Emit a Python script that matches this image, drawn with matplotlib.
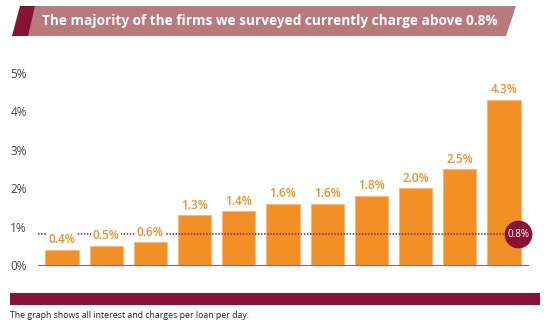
import matplotlib
matplotlib.use("Agg")
import matplotlib.pyplot as plt
from matplotlib.patches import Polygon, Rectangle

plt.rcParams['font.family'] = ['Open Sans', 'DejaVu Sans']

values = [0.4, 0.5, 0.6, 1.3, 1.4, 1.6, 1.6, 1.8, 2.0, 2.5, 4.3]
labels = ["%.1f%%" % v for v in values]
yticks = [0, 1, 2, 3, 4, 5]
threshold = 0.8
title = "The majority of the firms we surveyed currently charge above 0.8%"
note = "The graph shows all interest and charges per loan per day."

orange = "#f39025"
crimson = "#891336"
rose = "#b87a7a"

W, H = 550, 323
fig = plt.figure(figsize=(W / 100, H / 100), dpi=100)


def px(x, y):
    # pixel coords from top-left -> figure fraction
    return (x / W, 1 - y / H)


# axes placed in pixel coords
left, right, top, bottom = 38, 528, 60, 265
ax = fig.add_axes([left / W, 1 - bottom / H, (right - left) / W, (bottom - top) / H])

pitch = 44.2
x0 = (62 - left) / pitch
xs = list(range(len(values)))
ax.bar(xs, values, width=0.75, color=orange, edgecolor="#f8b878", linewidth=0.6, zorder=2)
for x, v, lab in zip(xs, values, labels):
    ax.text(x, v + 0.09, lab, ha="center", va="bottom", color=orange,
            fontsize=8.5, fontweight="semibold", zorder=6,
            bbox=dict(facecolor="white", edgecolor="none", pad=1.0))

ax.set_xlim(-x0, -x0 + (right - left) / pitch)
ax.set_ylim(0, (bottom - top) / 38.4)
ax.set_yticks(yticks)
ax.set_yticklabels(["%d%%" % t for t in yticks], fontsize=8.5, color="#444444")
ax.set_xticks([])
for s in ["top", "right", "left"]:
    ax.spines[s].set_visible(False)
ax.spines["bottom"].set_color("#b05a6a")
ax.spines["bottom"].set_linewidth(0.8)
ax.tick_params(axis="y", length=0, pad=8)

# threshold dotted line and marker
xr = -x0 + (505 - left) / pitch
ax.plot([-x0, xr], [threshold, threshold], linestyle=(0, (1, 1)), color="#8a2a44",
        linewidth=1.1, zorder=3)
xc = -x0 + (518 - left) / pitch
ax.plot([xc], [threshold], marker="o", markersize=19, color=crimson, clip_on=False, zorder=4)
ax.text(xc, threshold, "0.8%", ha="center", va="center", color="white", fontsize=7,
        zorder=5, clip_on=False)

# title banner
fig.patches.append(Polygon([px(34, 6), px(516, 6), px(506, 36), px(27, 36)],
                           closed=True, transform=fig.transFigure, facecolor=rose,
                           edgecolor="none"))
fig.patches.append(Polygon([px(20, 6), px(35, 6), px(28, 36), px(12, 36)],
                           closed=True, transform=fig.transFigure, facecolor=crimson,
                           edgecolor="none"))
fig.text(*px(42, 21), title, color="white", fontsize=9.8, fontweight="bold",
         ha="left", va="center")

# bottom band and footnote
fig.patches.append(Rectangle(px(10, 305), (540 - 10) / W, 12 / H, transform=fig.transFigure,
                             facecolor=crimson, edgecolor="none"))
fig.text(*px(10, 315), note, color="#222222", fontsize=6.3, ha="left", va="center")

fig.savefig("out.png", dpi=100)
